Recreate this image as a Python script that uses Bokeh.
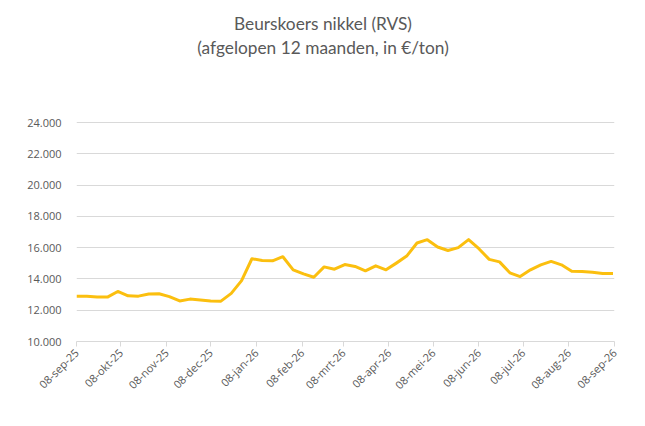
import pandas as pd
from math import pi
from bokeh.plotting import figure
from bokeh.models import FixedTicker, Label, ColumnDataSource, Range1d
from bokeh.embed import file_html
from bokeh.resources import INLINE

# weekly nickel price (EUR/ton)
start = pd.Timestamp("2025-09-08")
prices = [12900, 12900, 12850, 12840, 13200, 12920, 12900, 13040, 13050, 12870,
          12590, 12710, 12650, 12590, 12580, 13075, 13890, 15290, 15180, 15160,
          15420, 14580, 14320, 14110, 14770, 14620, 14920, 14800, 14520, 14840,
          14580, 15010, 15460, 16300, 16510, 16040, 15820, 16000, 16510, 15930,
          15250, 15090, 14390, 14150, 14580, 14900, 15120, 14900, 14490, 14470,
          14420, 14340, 14340]
dates = pd.date_range(start, periods=len(prices), freq="7D")

month_dates = ["2025-09-08", "2025-10-08", "2025-11-08", "2025-12-08", "2026-01-08",
               "2026-02-08", "2026-03-08", "2026-04-08", "2026-05-08", "2026-06-08",
               "2026-07-08", "2026-08-08", "2026-09-08"]
month_labels = ["08-sep-25", "08-okt-25", "08-nov-25", "08-dec-25", "08-jan-26",
                "08-feb-26", "08-mrt-26", "08-apr-26", "08-mei-26", "08-jun-26",
                "08-jul-26", "08-aug-26", "08-sep-26"]
y_ticks = [10000, 12000, 14000, 16000, 18000, 20000, 22000, 24000]
y_labels = ["10.000", "12.000", "14.000", "16.000", "18.000", "20.000", "22.000", "24.000"]

title1 = "Beurskoers nikkel (RVS)"
title2 = "(afgelopen 12 maanden, in €/ton)"

days = [(d - start).days for d in dates]
tick_days = [(pd.Timestamp(d) - start).days for d in month_dates]

W, H = 629, 410
left, right, bottom = 76, 15, 69
grid_px = 219                      # pixels between 10.000 and 24.000
frame_h = H - bottom
frame_w = W - left - right
# frame runs up to the top of the canvas; empty space above 24.000 holds the title
y_top = y_ticks[0] + (y_ticks[-1] - y_ticks[0]) * frame_h / grid_px

src = ColumnDataSource(dict(x=days, y=prices))

p = figure(width=W, height=H, output_backend="svg", toolbar_location=None,
           x_range=Range1d(0, tick_days[-1]), y_range=Range1d(y_ticks[0], y_top),
           min_border_left=left, min_border_right=right, min_border_top=0,
           min_border_bottom=bottom)
p.background_fill_color = "white"
p.border_fill_color = "white"
p.outline_line_color = None

p.line("x", "y", source=src, line_color="#FBBF0F", line_width=3, line_join="round")

grey = "#595959"
p.xgrid.visible = False
p.ygrid.grid_line_color = "#D9D9D9"
p.ygrid.grid_line_width = 1

p.yaxis.ticker = FixedTicker(ticks=y_ticks)
p.yaxis.major_label_overrides = dict(zip(y_ticks, y_labels))
p.yaxis.axis_line_color = None
p.yaxis.major_tick_line_color = None
p.yaxis.minor_tick_line_color = None
p.yaxis.major_label_text_font = "Open Sans"
p.yaxis.major_label_text_font_size = "11px"
p.yaxis.major_label_text_color = grey
p.yaxis.major_label_standoff = 9

p.xaxis.ticker = FixedTicker(ticks=tick_days)
p.xaxis.major_label_overrides = dict(zip(tick_days, month_labels))
p.xaxis.axis_line_color = "#D9D9D9"
p.xaxis.major_tick_line_color = "#D9D9D9"
p.xaxis.major_tick_out = 5
p.xaxis.major_tick_in = 0
p.xaxis.minor_tick_line_color = None
p.xaxis.major_label_orientation = pi / 4
p.xaxis.major_label_text_font = "Open Sans"
p.xaxis.major_label_text_font_size = "11px"
p.xaxis.major_label_text_color = grey
p.xaxis.major_label_standoff = 4

# title lines, centred on the canvas (pixel positions converted to data units)
def px_to_data(sx, sy):
    x = (sx - left) / frame_w * tick_days[-1]
    y = y_ticks[0] + (frame_h - sy) * (y_top - y_ticks[0]) / frame_h
    return x, y

for txt, sy in [(title1, 23), (title2, 47)]:
    tx, ty = px_to_data(W / 2 + 8, sy)
    p.add_layout(Label(x=tx, y=ty, text=txt, text_align="center", text_baseline="middle",
                       text_font="Lato", text_font_size="17.3px", text_color=grey))

open("out.html", "w").write(file_html(p, INLINE))
